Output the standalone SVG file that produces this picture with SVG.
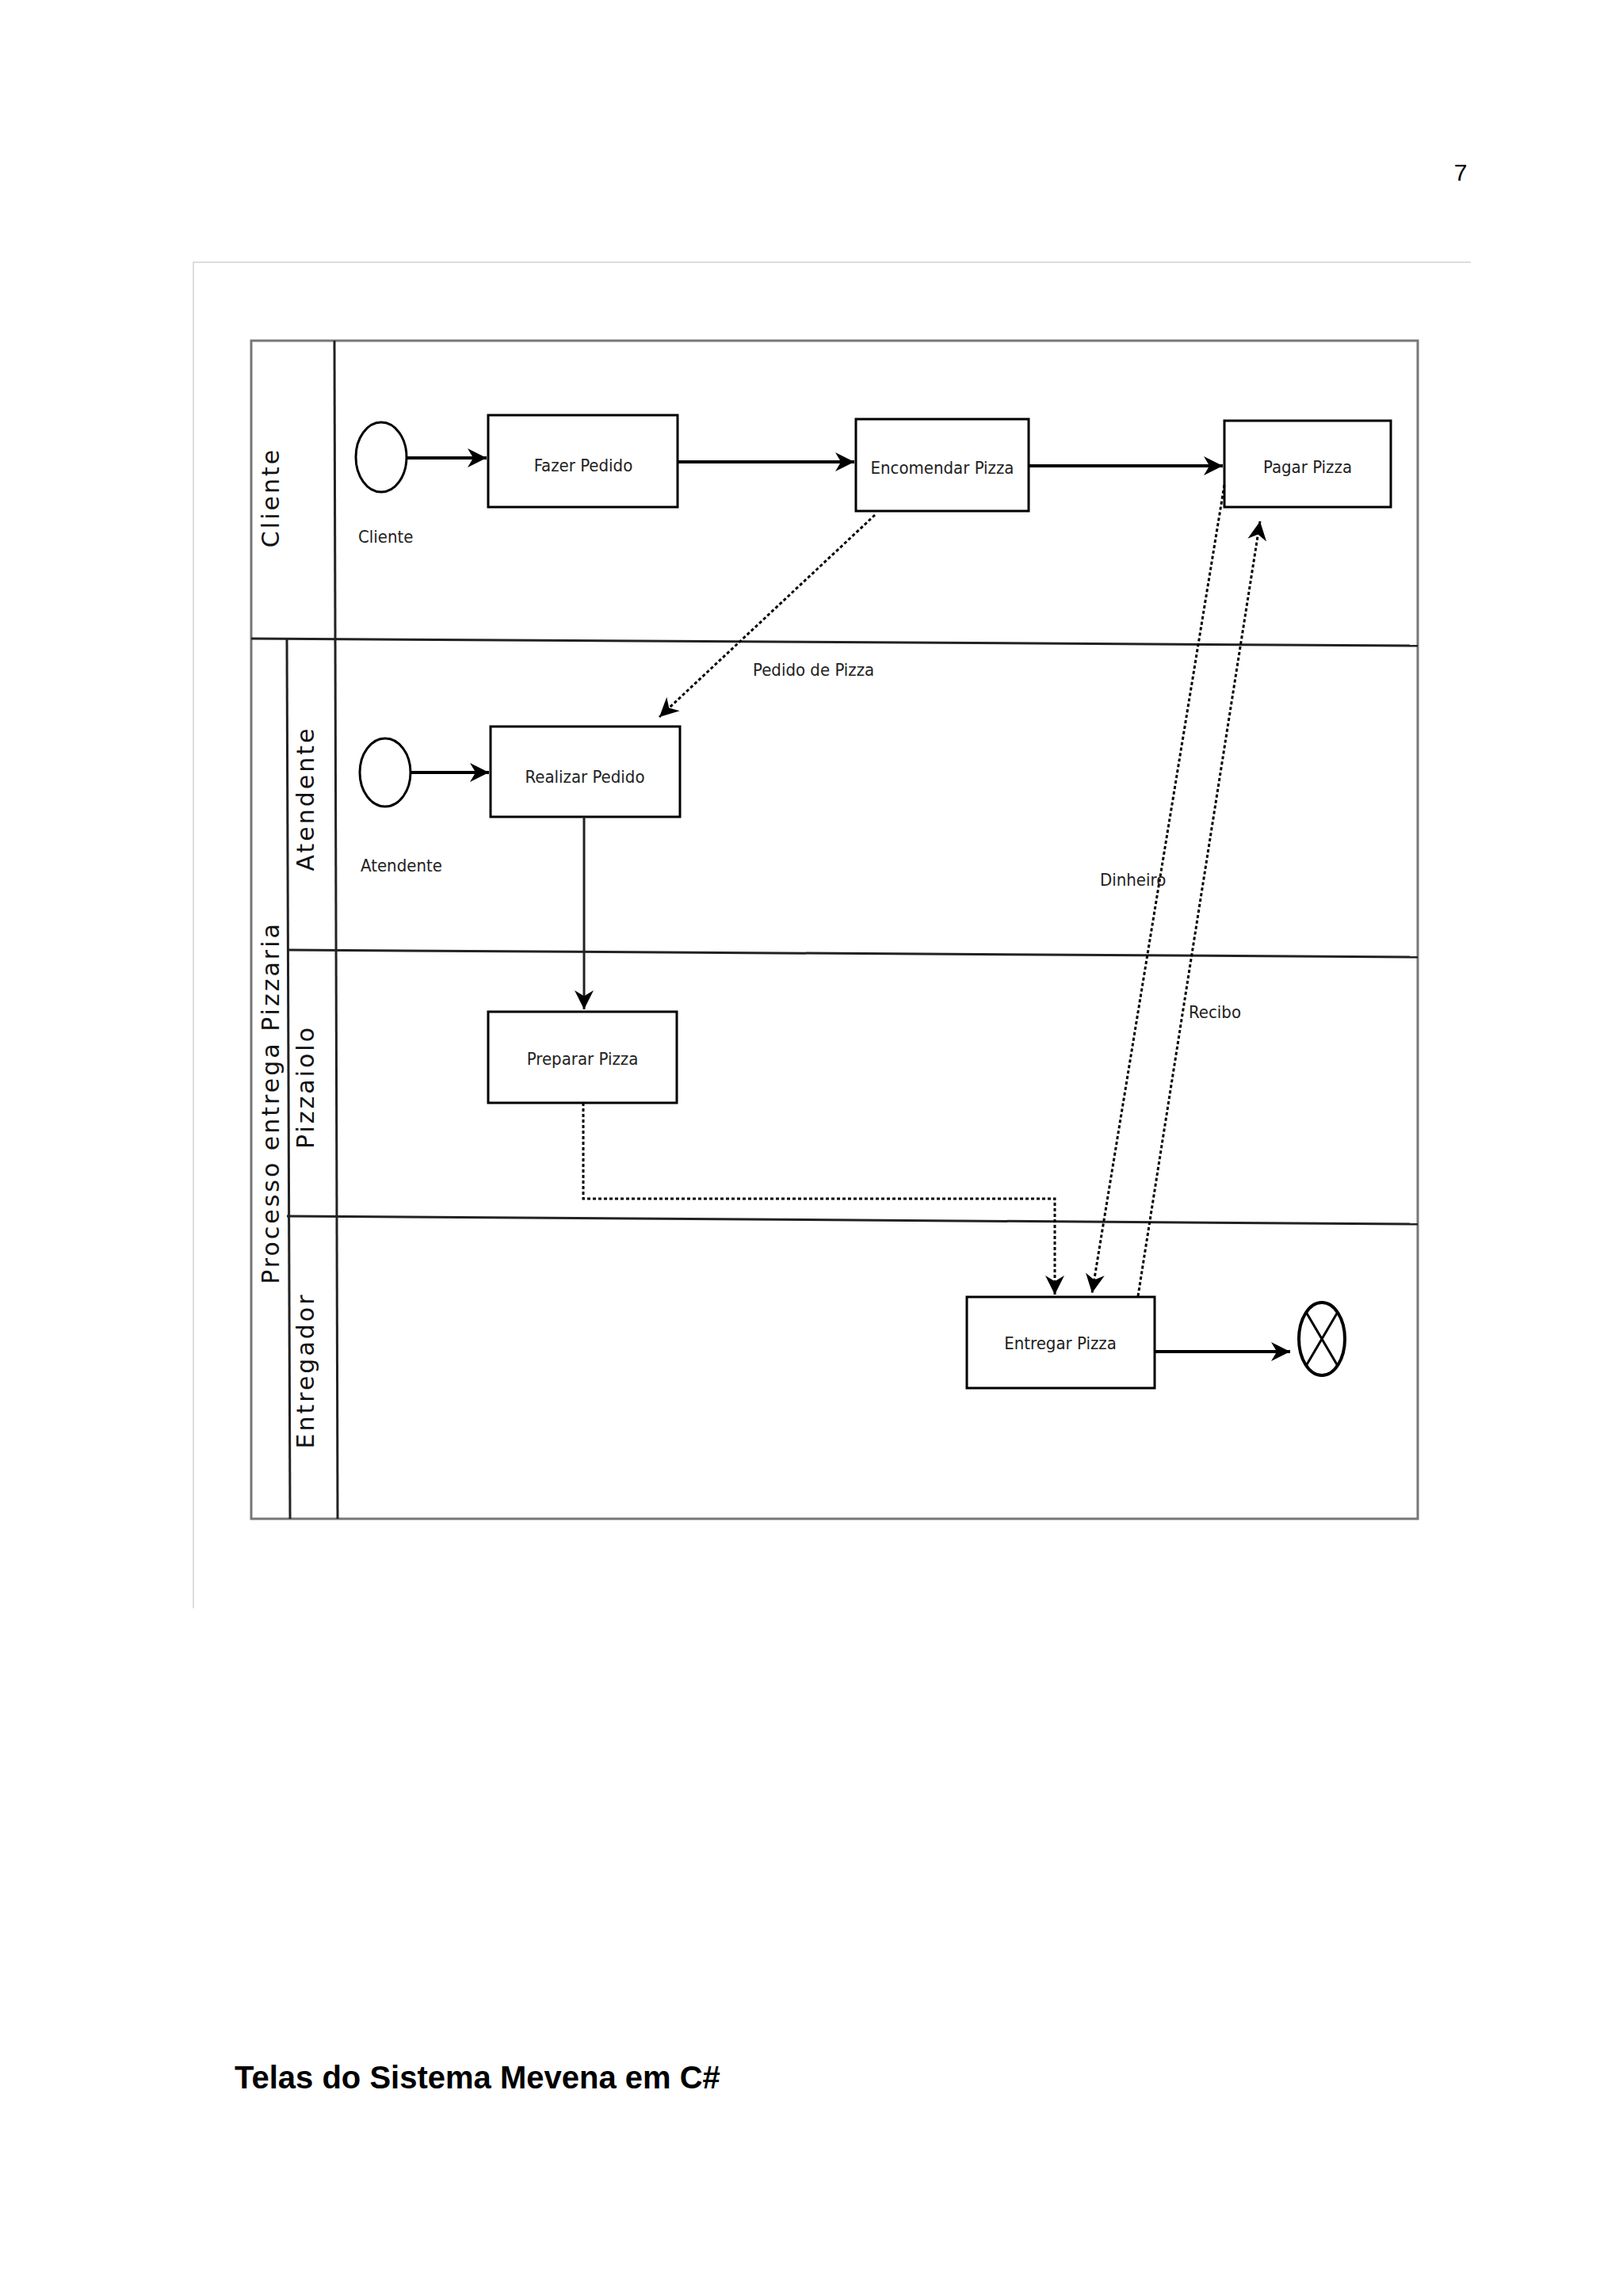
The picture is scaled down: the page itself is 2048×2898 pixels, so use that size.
<svg xmlns="http://www.w3.org/2000/svg" width="2048" height="2898" viewBox="0 0 2048 2898">
<defs>
<style>
.box{fill:#fff;stroke:#000;stroke-width:3}
.t{font-family:"Liberation Sans Narrow","DejaVu Sans Condensed","Liberation Sans",sans-serif;font-size:22px;fill:#222;text-anchor:middle}
.lbl{font-family:"Liberation Sans Narrow","DejaVu Sans Condensed","Liberation Sans",sans-serif;font-size:22px;fill:#222}
.lane{font-family:"DejaVu Sans",sans-serif;font-size:30px;letter-spacing:3px;fill:#111;text-anchor:middle}
.ln{stroke:#222;stroke-width:3;fill:none}
.solid{stroke:#000;stroke-width:4;fill:none}
.dash{stroke:#000;stroke-width:3;stroke-dasharray:4 3;fill:none}
</style>
<marker id="b" viewBox="0 0 10 10" refX="10" refY="5" markerWidth="24" markerHeight="24" orient="auto" markerUnits="userSpaceOnUse">
<path d="M0,0 L10,5 L0,10 L3,5 z" fill="#000"/>
</marker>
</defs>
<rect width="2048" height="2898" fill="#fff"/>
<text x="1843" y="228" font-family="Liberation Sans,sans-serif" font-size="30" fill="#000" text-anchor="middle">7</text>
<path d="M1856,331 H244 V2030" stroke="#ddd" stroke-width="2" fill="none"/>
<g id="pool">
<rect x="317" y="430" width="1472" height="1487" fill="#fff" stroke="#777" stroke-width="3"/>
<line x1="422" y1="430" x2="426" y2="1917" class="ln"/>
<line x1="362" y1="806" x2="366" y2="1917" class="ln"/>
<line x1="317" y1="806" x2="1789" y2="815" class="ln"/>
<line x1="362" y1="1199" x2="1789" y2="1208" class="ln"/>
<line x1="362" y1="1535" x2="1789" y2="1545" class="ln"/>
<text class="lane" transform="translate(352,628) rotate(-90)">Cliente</text>
<text class="lane" transform="translate(396,1008) rotate(-90)">Atendente</text>
<text class="lane" transform="translate(396,1372) rotate(-90)">Pizzaiolo</text>
<text class="lane" transform="translate(396,1730) rotate(-90)">Entregador</text>
<text class="lane" transform="translate(352,1392) rotate(-90)">Processo entrega Pizzaria</text>
</g>
<g id="start1"><ellipse cx="481" cy="577" rx="32" ry="44" fill="#fff" stroke="#000" stroke-width="3"/><text class="lbl" x="452" y="685">Cliente</text></g>
<g id="start2"><ellipse cx="486" cy="975" rx="32" ry="43" fill="#fff" stroke="#000" stroke-width="3"/><text class="lbl" x="455" y="1100">Atendente</text></g>
<g id="fazer"><rect class="box" x="616" y="524" width="239" height="116"/><text class="t" x="736" y="595">Fazer Pedido</text></g>
<g id="encomendar"><rect class="box" x="1080" y="529" width="218" height="116"/><text class="t" x="1189" y="598">Encomendar Pizza</text></g>
<g id="pagar"><rect class="box" x="1545" y="531" width="210" height="109"/><text class="t" x="1650" y="597">Pagar Pizza</text></g>
<g id="realizar"><rect class="box" x="619" y="917" width="239" height="114"/><text class="t" x="738" y="988">Realizar Pedido</text></g>
<g id="preparar"><rect class="box" x="616" y="1277" width="238" height="115"/><text class="t" x="735" y="1344">Preparar Pizza</text></g>
<g id="entregar"><rect class="box" x="1220" y="1637" width="237" height="115"/><text class="t" x="1338" y="1703">Entregar Pizza</text></g>
<g id="end"><ellipse cx="1668" cy="1690" rx="29" ry="46" fill="#fff" stroke="#000" stroke-width="4"/><path d="M1648,1656 L1688,1724 M1688,1656 L1648,1724" stroke="#000" stroke-width="3"/></g>
<g id="connectors">
<line class="solid" x1="513" y1="578" x2="614" y2="578" marker-end="url(#b)"/>
<line class="solid" x1="855" y1="583" x2="1078" y2="583" marker-end="url(#b)"/>
<line class="solid" x1="1298" y1="588" x2="1543" y2="588" marker-end="url(#b)"/>
<line class="solid" x1="518" y1="975" x2="617" y2="975" marker-end="url(#b)"/>
<line class="ln" x1="737" y1="1031" x2="737" y2="1274" marker-end="url(#b)"/>
<line class="dash" x1="1104" y1="650" x2="832" y2="905" marker-end="url(#b)"/>
<text class="lbl" x="950" y="853">Pedido de Pizza</text>
<path class="dash" d="M736,1392 V1513 H1331 V1634" marker-end="url(#b)"/>
<line class="dash" x1="1545" y1="612" x2="1378" y2="1632" marker-end="url(#b)"/>
<text class="lbl" x="1388" y="1118">Dinheiro</text>
<line class="dash" x1="1436" y1="1636" x2="1590" y2="658" marker-end="url(#b)"/>
<text class="lbl" x="1500" y="1285">Recibo</text>
<line class="solid" x1="1457" y1="1706" x2="1628" y2="1706" marker-end="url(#b)"/>
</g>
<text x="296" y="2636" font-family="Liberation Sans,sans-serif" font-size="40" font-weight="bold" fill="#000">Telas do Sistema Mevena em C#</text>
</svg>
